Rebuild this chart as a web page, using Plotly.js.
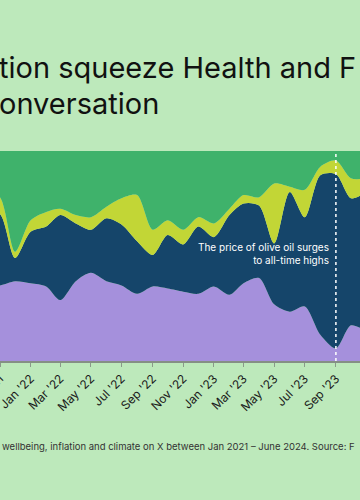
<!DOCTYPE html>
<html>
<head>
<meta charset="utf-8">
<script src="https://cdn.plot.ly/plotly-3.0.1.min.js"></script>
<style>
html,body{margin:0;padding:0;background:#bde9bb;overflow:hidden;}
#chart{width:360px;height:500px;}
</style>
</head>
<body>
<div id="chart"></div>
<script>
// Months (first of month)
var months = ["2021-10-01","2021-11-01","2021-12-01","2022-01-01","2022-02-01","2022-03-01","2022-04-01","2022-05-01","2022-06-01","2022-07-01","2022-08-01","2022-09-01","2022-10-01","2022-11-01","2022-12-01","2023-01-01","2023-02-01","2023-03-01","2023-04-01","2023-05-01","2023-06-01","2023-07-01","2023-08-01","2023-09-01","2023-10-01","2023-11-01"];

// Share of conversation (%), bottom to top
var purpleSeries = [36,36,38,37,35.5,29,38,42,38,36,32,35.5,34.5,33,32,35.5,31.5,37,39.5,27,23.5,26,12.5,6,17,14];
var navySeries   = [36,34,11,24.5,28.5,40.5,27.5,20.5,30,29,25,15,25.5,22.5,32,23.5,38,38,34.5,29,57,42.5,76,83,60.5,66.5];
var limeSeries   = [10,8,3,5.5,7,3,4,6,5.5,12.5,22,12,7,7,4.5,6.5,3,4,4,28.5,2.5,13,4,6.5,9.5,6.5];
var greenSeries  = [18,22,48,33,29,27.5,30.5,31.5,26.5,22.5,21,37.5,33,37.5,31.5,34.5,27.5,21,22,15.5,17,18.5,7.5,4.5,13,13];

var titleLine1 = "tion squeeze Health and F";
var titleLine2 = "onversation";
var noteText = "The price of olive oil surges<br>to all-time highs";
var noteDate = "2023-09-01";
var footerText = "wellbeing, inflation and climate on X between Jan 2021 – June 2024. Source: F";

var colors = {purple:"#a590dc", navy:"#15456a", lime:"#c2d636", green:"#3fb26b", bg:"#bde9bb"};

function tr(y, c, name){
  return {x: months, y: y, name: name, type:"scatter", mode:"lines", stackgroup:"one",
    line:{width:0, shape:"spline", smoothing:0.8, color:c}, fillcolor:c, hoverinfo:"skip"};
}

var data = [
  tr(purpleSeries, colors.purple, "purple"),
  tr(navySeries, colors.navy, "navy"),
  tr(limeSeries, colors.lime, "lime"),
  tr(greenSeries, colors.green, "green")
];

var font = "Inter, 'Open Sans', sans-serif";

var layout = {
  width:360, height:500,
  margin:{l:0, r:0, t:151, b:139},
  paper_bgcolor: colors.bg, plot_bgcolor: colors.bg,
  showlegend:false,
  hovermode:false,
  font:{family:font, color:"#1a1a1a"},
  xaxis:{
    type:"date", range:["2021-11-01","2023-10-19"],
    tick0:"2021-11-01", dtick:"M2", tickformat:"%b '%y",
    tickangle:-45, ticks:"outside", ticklen:4, tickcolor:"#8a9a8a", tickwidth:1,
    ticklabeloverflow:"allow",
    showline:true, linecolor:"#858f85", linewidth:2,
    showgrid:false, zeroline:false,
    tickfont:{size:12, family:font, color:"#1a1a1a"}
  },
  yaxis:{range:[0,100], visible:false, showgrid:false, zeroline:false, fixedrange:true},
  shapes:[{type:"line", xref:"x", yref:"paper", x0:noteDate, x1:noteDate, y0:0, y1:1,
    line:{color:"#ffffff", width:1.5, dash:"dot"}}],
  annotations:[
    {text:titleLine1, xref:"paper", yref:"paper", x:0, y:(361-67)/210, xanchor:"left", yanchor:"middle",
      xshift:-3, showarrow:false, font:{size:29, family:font, color:"#111"}},
    {text:titleLine2, xref:"paper", yref:"paper", x:0, y:(361-104)/210, xanchor:"left", yanchor:"middle",
      xshift:-3, showarrow:false, font:{size:29, family:font, color:"#111"}},
    {text:noteText, xref:"x", yref:"paper", x:noteDate, y:(361-253)/210, xanchor:"right", yanchor:"middle",
      xshift:-5, align:"right", showarrow:false, font:{size:10, family:font, color:"#ffffff"}},
    {text:footerText, xref:"paper", yref:"paper", x:0, y:(361-446)/210, xanchor:"left", yanchor:"middle",
      xshift:0, showarrow:false, font:{size:9.5, family:font, color:"#333"}}
  ]
};

Plotly.newPlot("chart", data, layout, {displayModeBar:false, staticPlot:true});
</script>
</body>
</html>
